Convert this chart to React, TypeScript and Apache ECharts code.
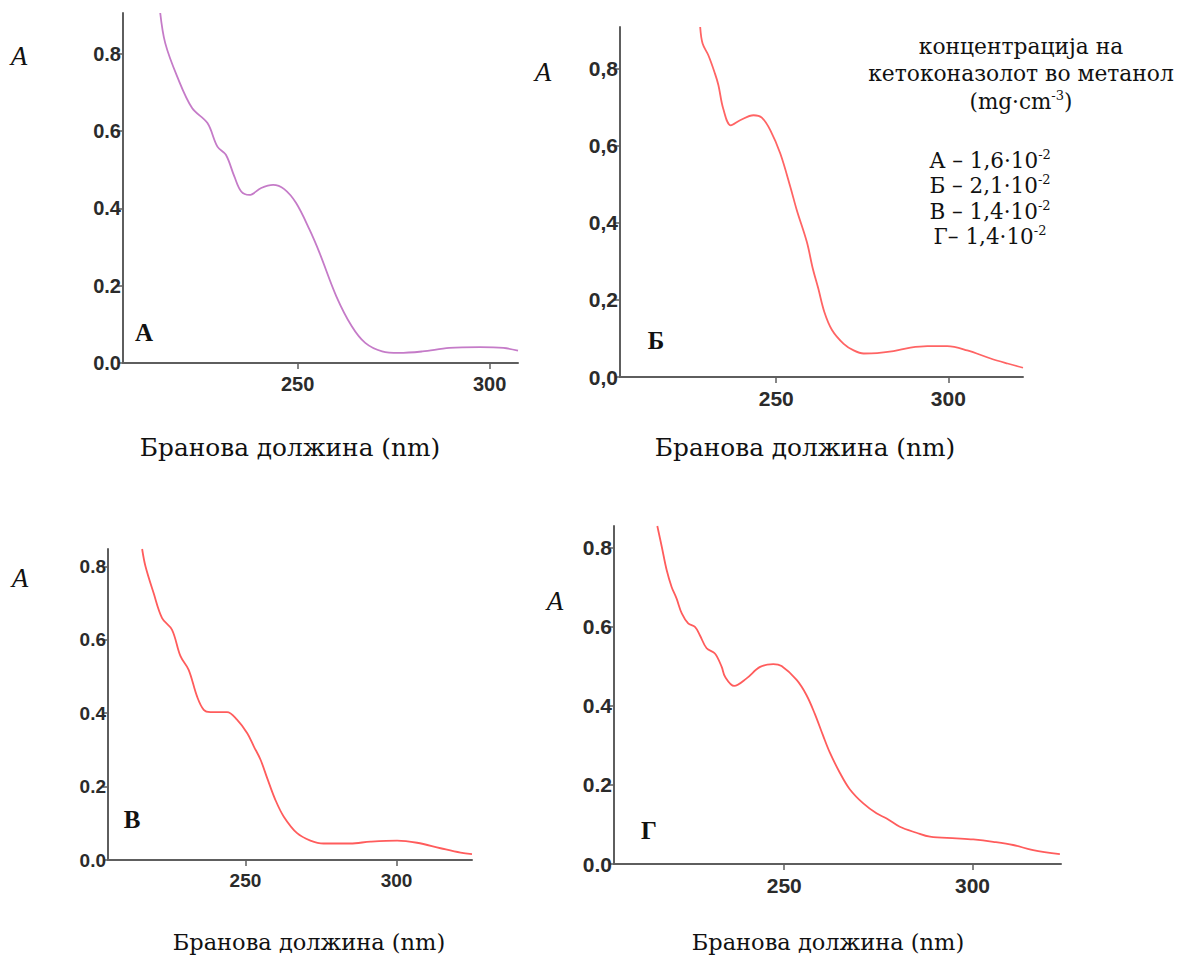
import React, { useEffect, useRef } from "react";
import * as echarts from "echarts";

// Wavelength (nm) and absorbance values
const wlA = [214.2, 215.5, 218.6, 222.5, 226.5, 229.1, 231.3, 233.5, 235.3, 237.4, 240.5, 243.6, 246.5, 249.6, 253.1, 255.7, 260.1, 264.1, 267.6, 272.0, 276.4, 282.5, 289.5, 297.5, 303.6, 307.4];
const absA = [0.906, 0.828, 0.742, 0.660, 0.621, 0.560, 0.539, 0.483, 0.444, 0.435, 0.453, 0.461, 0.450, 0.414, 0.345, 0.285, 0.172, 0.095, 0.052, 0.030, 0.026, 0.030, 0.039, 0.041, 0.039, 0.032];

const wlB = [227.9, 228.6, 230.3, 232.2, 233.2, 234.6, 236.8, 239.5, 243.4, 245.8, 248.3, 251.2, 254.1, 256.0, 258.9, 260.6, 262.2, 264.0, 266.2, 269.6, 272.5, 275.4, 279.3, 284.1, 289.0, 293.9, 299.7, 305.5, 312.3, 317.2, 321.7];
const absB = [0.908, 0.865, 0.834, 0.787, 0.757, 0.696, 0.653, 0.666, 0.679, 0.673, 0.640, 0.579, 0.493, 0.432, 0.350, 0.282, 0.230, 0.168, 0.122, 0.086, 0.069, 0.061, 0.062, 0.067, 0.076, 0.080, 0.080, 0.069, 0.048, 0.035, 0.024];

const wlV = [215.8, 216.9, 219.6, 222.4, 225.7, 228.5, 231.2, 234.0, 236.2, 238.4, 243.9, 247.2, 250.6, 252.8, 255.0, 257.2, 259.9, 262.7, 267.1, 271.5, 275.9, 284.7, 291.4, 300.2, 306.8, 314.6, 321.2, 325.0];
const absV = [0.847, 0.800, 0.727, 0.659, 0.627, 0.555, 0.518, 0.445, 0.409, 0.403, 0.403, 0.382, 0.345, 0.309, 0.273, 0.223, 0.164, 0.118, 0.073, 0.053, 0.045, 0.045, 0.050, 0.053, 0.047, 0.032, 0.020, 0.016];

const wlG = [216.3, 217.5, 218.8, 220.1, 221.4, 222.8, 224.5, 226.3, 227.6, 229.4, 231.6, 233.4, 234.3, 236.7, 240.0, 243.6, 247.1, 249.3, 253.3, 255.9, 258.1, 260.3, 262.1, 264.8, 267.4, 271.0, 274.5, 277.2, 280.7, 285.1, 288.7, 295.7, 300.2, 305.5, 310.8, 316.1, 323.2];
const absG = [0.854, 0.801, 0.742, 0.700, 0.671, 0.633, 0.608, 0.599, 0.578, 0.545, 0.532, 0.498, 0.473, 0.450, 0.469, 0.498, 0.505, 0.500, 0.465, 0.427, 0.380, 0.325, 0.282, 0.230, 0.189, 0.153, 0.128, 0.115, 0.094, 0.079, 0.069, 0.065, 0.062, 0.056, 0.048, 0.035, 0.025];

const xTicks = [250, 300];
const yTicks = [0, 0.2, 0.4, 0.6, 0.8];

const panelLetters = ["А", "Б", "В", "Г"];
const axisTitle = "Бранова должина (nm)";
const legendHead = ["концентрација на", "кетоконазолот во метанол"];
const legendUnit = ["(mg·cm", "-3", ")"];
const legendRows = [
  ["А – 1,6·10", "-2"],
  ["Б – 2,1·10", "-2"],
  ["В – 1,4·10", "-2"],
  ["Г– 1,4·10", "-2"],
];

const panels = [
  { wl: wlA, ab: absA, grid: { left: 123, top: 13, width: 395, height: 350 }, xMin: 204.5, xMax: 307.4, yMax: 0.906, dec: ".", color: "#c57bc8", tickSize: 20 },
  { wl: wlB, ab: absB, grid: { left: 620, top: 27, width: 403, height: 350 }, xMin: 204.6, xMax: 321.7, yMax: 0.908, dec: ",", color: "#ff6464", tickSize: 21 },
  { wl: wlV, ab: absV, grid: { left: 108, top: 549, width: 364, height: 311 }, xMin: 204.5, xMax: 325, yMax: 0.847, dec: ".", color: "#ff5c5c", tickSize: 19 },
  { wl: wlG, ab: absG, grid: { left: 614, top: 526, width: 447, height: 338 }, xMin: 204.8, xMax: 323.5, yMax: 0.854, dec: ".", color: "#ff5c5c", tickSize: 21 },
];

const tickFont = "'Liberation Sans Narrow', 'Liberation Sans', Arial, sans-serif";
const serif = "'DejaVu Serif', 'Liberation Serif', serif";
const timesFont = "'Liberation Serif', 'Times New Roman', serif";

export default function App() {
  const ref = useRef<HTMLDivElement>(null);
  useEffect(() => {
    if (!ref.current) return;
    const chart = echarts.init(ref.current, undefined, { renderer: "svg" });
    const axisColor = "#5e5e5e";
    const grids = panels.map((p) => ({ ...p.grid, outerBoundsMode: "none", containLabel: false }));
    const xAxes = panels.map((p, i) => ({
      type: "value",
      gridIndex: i,
      min: p.xMin,
      max: p.xMax,
      splitLine: { show: false },
      axisLine: { show: true, lineStyle: { color: axisColor, width: 2 } },
      axisTick: { show: true, customValues: xTicks, length: 6, lineStyle: { color: axisColor, width: 1.5 } },
      axisLabel: {
        customValues: xTicks,
        margin: 11,
        fontFamily: tickFont,
        fontWeight: "bold",
        fontSize: p.tickSize,
        color: "#2b2b2b",
      },
    }));
    const yAxes = panels.map((p, i) => ({
      type: "value",
      gridIndex: i,
      min: 0,
      max: p.yMax,
      splitLine: { show: false },
      axisLine: { show: true, lineStyle: { color: axisColor, width: 2 } },
      axisTick: { show: true, customValues: yTicks, length: 5, lineStyle: { color: axisColor, width: 1.5 } },
      axisLabel: {
        customValues: yTicks,
        margin: 2,
        fontFamily: tickFont,
        fontWeight: "bold",
        fontSize: p.tickSize,
        color: "#2b2b2b",
        formatter: (v: number) => v.toFixed(1).replace(".", p.dec),
      },
    }));
    const series = panels.map((p, i) => ({
      type: "line",
      xAxisIndex: i,
      yAxisIndex: i,
      data: p.wl.map((w, k) => [w, p.ab[k]]),
      showSymbol: false,
      smooth: 0.35,
      lineStyle: { color: p.color, width: 1.8 },
      itemStyle: { color: p.color },
    }));

    const italicA = [
      [19, 56],
      [543, 72],
      [20, 578],
      [555, 601],
    ];
    const letterPos = [
      [144, 332],
      [656, 340],
      [132, 819],
      [649, 830],
    ];
    const titlePos = [
      [290, 447, 24.8],
      [805, 447, 24.8],
      [309, 942, 22.5],
      [828, 942, 22.5],
    ];

    const graphic: any[] = [];
    italicA.forEach(([x, y]) =>
      graphic.push({
        type: "text",
        x,
        y,
        style: { text: "A", fontFamily: timesFont, fontStyle: "italic", fontSize: 27, fill: "#111", align: "center", verticalAlign: "middle" },
      })
    );
    letterPos.forEach(([x, y], i) =>
      graphic.push({
        type: "text",
        x,
        y,
        style: { text: panelLetters[i], fontFamily: timesFont, fontWeight: "bold", fontSize: 25, fill: "#111", align: "center", verticalAlign: "middle" },
      })
    );
    titlePos.forEach(([x, y, s]) =>
      graphic.push({
        type: "text",
        x,
        y,
        style: { text: axisTitle, fontFamily: serif, fontSize: s, fill: "#111", align: "center", verticalAlign: "middle" },
      })
    );
    legendHead.forEach((t, i) =>
      graphic.push({
        type: "text",
        x: 1021,
        y: 46 + i * 27,
        style: { text: t, fontFamily: serif, fontSize: 21.8, fill: "#111", align: "center", verticalAlign: "middle" },
      })
    );
    const rich = {
      n: { fontFamily: serif, fontSize: 21.5, fill: "#111", lineHeight: 25 },
      s: { fontFamily: serif, fontSize: 13, fill: "#111", lineHeight: 25, verticalAlign: "top" },
    };
    graphic.push({
      type: "text",
      x: 1021,
      y: 101,
      style: {
        text: `{n|${legendUnit[0]}}{s|${legendUnit[1]}}{n|${legendUnit[2]}}`,
        rich,
        align: "center",
        verticalAlign: "middle",
      },
    });
    legendRows.forEach((r, i) =>
      graphic.push({
        type: "text",
        x: 990,
        y: 160 + i * 25.5,
        style: { text: `{n|${r[0]}}{s|${r[1]}}`, rich, align: "center", verticalAlign: "middle" },
      })
    );

    chart.setOption({
      animation: false,
      backgroundColor: "#ffffff",
      grid: grids,
      xAxis: xAxes,
      yAxis: yAxes,
      series,
      graphic,
    });
    return () => chart.dispose();
  }, []);
  return <div ref={ref} style={{ position: "fixed", left: 0, top: 0, width: 1177, height: 955 }} />;
}
